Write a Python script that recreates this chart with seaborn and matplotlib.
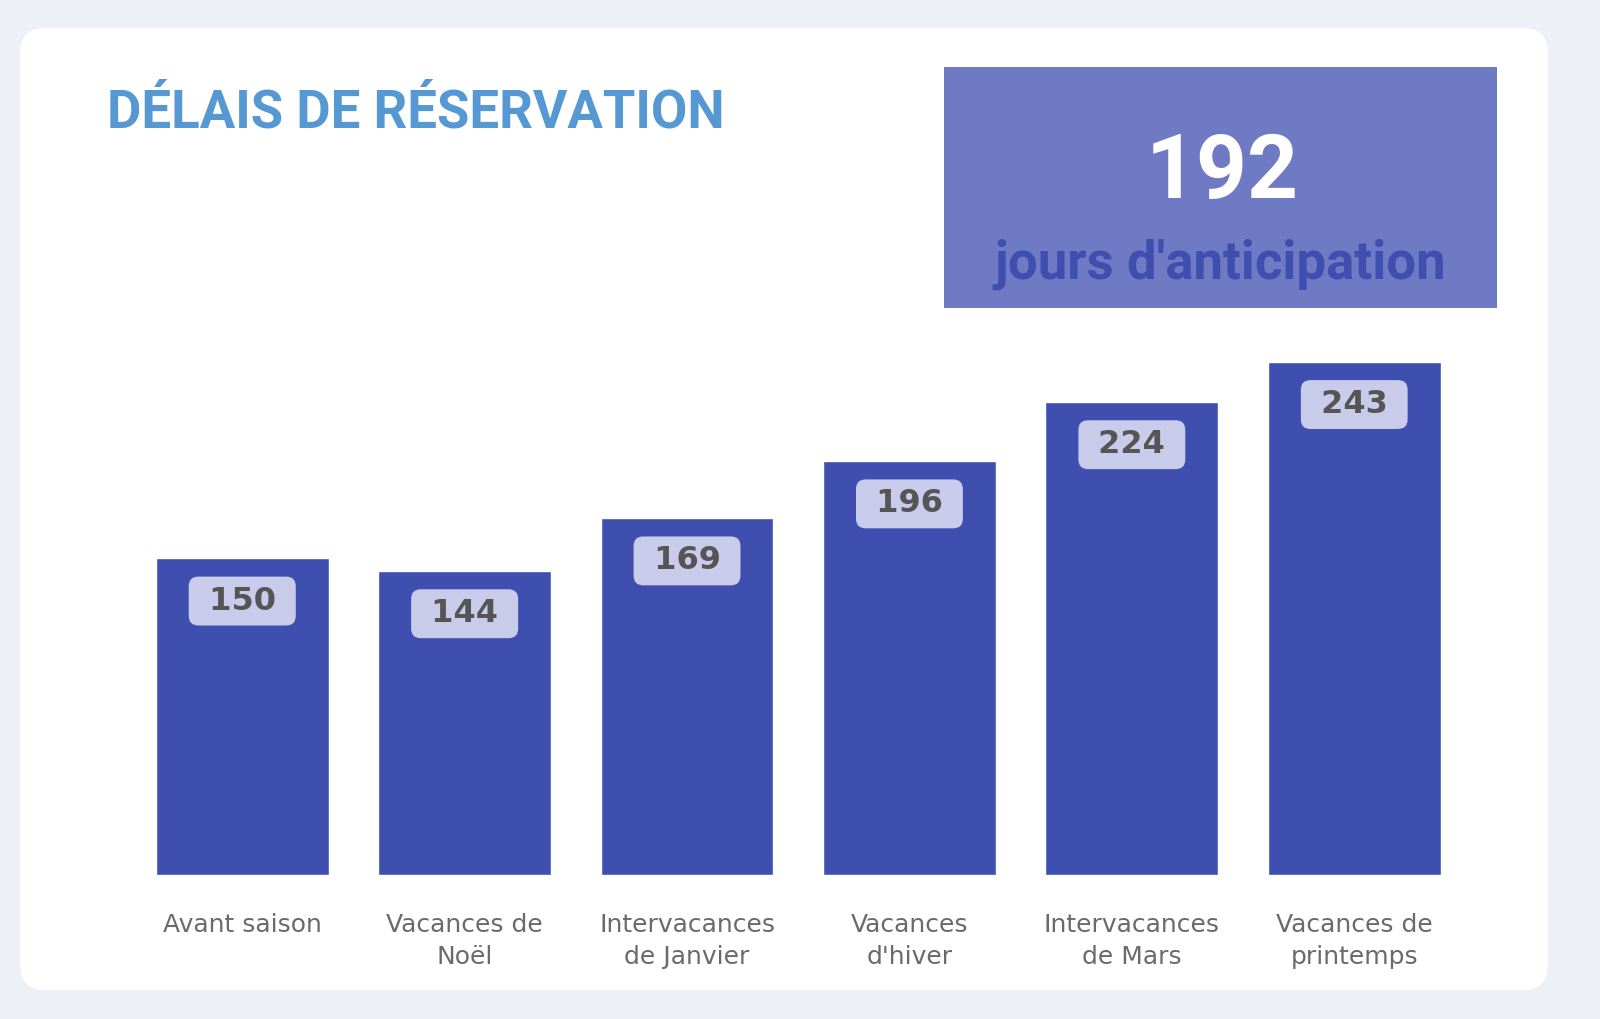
import matplotlib
matplotlib.use("Agg")
import matplotlib.pyplot as plt
from matplotlib.patches import FancyBboxPatch, Rectangle
import seaborn as sns
import pandas as pd

# data
categories = ["Avant saison", "Vacances de\nNoël", "Intervacances\nde Janvier",
              "Vacances\nd'hiver", "Intervacances\nde Mars", "Vacances de\nprintemps"]
days = [150, 144, 169, 196, 224, 243]
kpi_value = 192
kpi_label = "jours d'anticipation"
title = "DÉLAIS DE RÉSERVATION"

bar_color = "#3f4fb0"
bg_color = "#edf0f6"

sns.set_style("white")
plt.rcParams["font.family"] = ["DejaVu Sans"]

fig = plt.figure(figsize=(16, 10.19), dpi=100, facecolor=bg_color)

# white card behind everything
card = FancyBboxPatch((0.20, 0.29), 15.28, 9.62, boxstyle="round,pad=0,rounding_size=0.25",
                      transform=fig.dpi_scale_trans, facecolor="white", edgecolor="none", zorder=-5)
fig.patches.append(card)

# kpi box
fig.patches.append(Rectangle((0.59, 0.6977), 0.3456, 0.2365, transform=fig.transFigure,
                             facecolor="#6f7ac4", edgecolor="none", zorder=-4))
fig.text(0.764, 0.806, str(kpi_value), ha="center", va="baseline", color="white",
         fontsize=64, fontweight="bold", family="Roboto")
fig.text(0.7625, 0.727, kpi_label, ha="center", va="baseline", color=bar_color,
         fontsize=38, fontweight="bold", family="Roboto")

fig.text(0.0669, 0.875, title, ha="left", va="baseline", color="#5598d2",
         fontsize=38, fontweight="bold", family="Roboto")

df = pd.DataFrame({"periode": categories, "jours": days})

ax = fig.add_axes([0.0819, 0.1413, 0.834, 0.535], zorder=3)
ax.patch.set_alpha(0)
sns.barplot(data=df, x="periode", y="jours", color=bar_color, width=0.777,
            saturation=1, ax=ax)
ax.set_xlim(-0.5, 5.5)
ax.set_ylim(0, 258)
sns.despine(ax=ax, left=True, bottom=True)
ax.set_yticks([])
ax.set_xlabel("")
ax.set_ylabel("")
ax.tick_params(axis="x", length=0, pad=27, labelsize=18, labelcolor="#6a6a6a")
for lbl in ax.get_xticklabels():
    lbl.set_linespacing(1.45)

for i, v in enumerate(days):
    ax.annotate(f" {v} ", (i, v), xytext=(0, -43), textcoords="offset pixels",
                ha="center", va="center", fontsize=23, fontweight="bold", color="#555555",
                bbox=dict(boxstyle="round,pad=0.28,rounding_size=0.3",
                          facecolor="#c8cbea", edgecolor="none"))

fig.savefig("out.png", dpi=100, facecolor=bg_color)
